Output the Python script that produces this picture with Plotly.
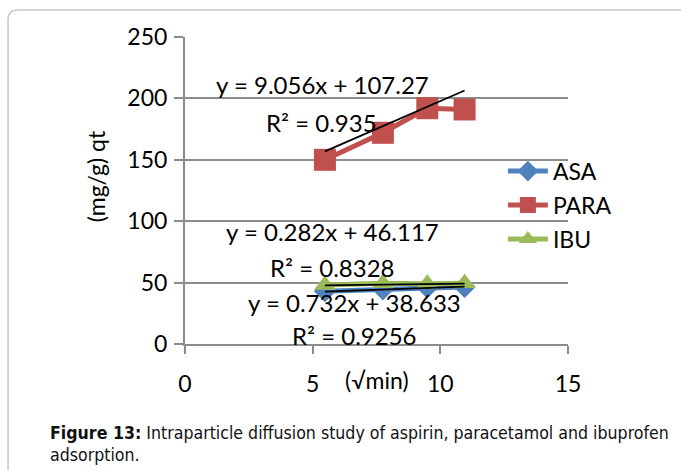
import numpy as np
import plotly.graph_objects as go

# sqrt(t) values and uptake qt (mg/g)
sqrt_t = [5.48, 7.75, 9.49, 10.95]
asa_qt = [43.0, 44.5, 46.0, 46.5]
para_qt = [150.0, 172.0, 192.0, 191.0]
ibu_qt = [48.0, 49.5, 49.0, 49.5]

series_names = ["ASA", "PARA", "IBU"]
series_colors = ["#4F81BD", "#C0504D", "#9BBB59"]
series_symbols = ["diamond", "square", "triangle-up"]
series_sizes = [17, 22, 19]

# linear trend lines: slope, intercept, R²
para_fit = (9.056, 107.27, 0.935)
ibu_fit = (0.282, 46.117, 0.8328)
asa_fit = (0.732, 38.633, 0.9256)

x_ticks = [0, 5, 10, 15]
y_ticks = [0, 50, 100, 150, 200, 250]

FONT = "Lato"
CAPTION_FONT = "DejaVu Sans Condensed, Liberation Sans, sans-serif"
fig = go.Figure()

for name, ys, col, sym, sz in zip(series_names, [asa_qt, para_qt, ibu_qt],
                                  series_colors, series_symbols, series_sizes):
    fig.add_trace(go.Scatter(
        x=sqrt_t, y=ys, name=name, legendgroup=name, mode="lines+markers",
        line=dict(color=col, width=5),
        marker=dict(symbol=sym, size=sz, color=col),
    ))

xs = np.array([min(sqrt_t), max(sqrt_t)])
for slope, icpt, _ in [para_fit, ibu_fit, asa_fit]:
    fig.add_trace(go.Scatter(
        x=xs, y=slope * xs + icpt, mode="lines", showlegend=False,
        line=dict(color="black", width=1.8), hoverinfo="skip",
    ))

def eq_text(fit):
    return f"y = {fit[0]}x + {fit[1]}", f"R² = {fit[2]}"

# equation labels, positioned in data units
labels = [
    (para_fit, 5.4, 211, 5.35, 180),
    (ibu_fit, 5.76, 92, 5.76, 62),
    (asa_fit, 6.62, 34, 6.65, 7.3),
]
for fit, x1, y1, x2, y2 in labels:
    t1, t2 = eq_text(fit)
    fig.add_annotation(x=x1, y=y1, text=t1, showarrow=False,
                       font=dict(size=24, color="black", family=FONT))
    fig.add_annotation(x=x2, y=y2, text=t2, showarrow=False,
                       font=dict(size=24, color="black", family=FONT))

# axis titles
fig.add_annotation(xref="paper", yref="paper", x=0.5, y=-0.117,
                   xanchor="center", yanchor="middle",
                   text="(√min)", showarrow=False,
                   font=dict(size=23, color="black", family=FONT))
fig.add_annotation(xref="paper", yref="paper", x=-0.232, y=0.547, textangle=-90,
                   xanchor="center", yanchor="middle",
                   text="(mg/g) qt", showarrow=False,
                   font=dict(size=23, color="black", family=FONT))

# outer rounded frame
fig.add_shape(type="path", xref="paper", yref="paper",
              path="M -0.462,-0.6 L -0.462,1.056 Q -0.462,1.088 -0.436,1.088 L 1.4,1.088",
              line=dict(color="#c8c8c8", width=1.5))

# caption
fig.add_annotation(xref="paper", yref="paper", x=-0.359, y=-0.29, xanchor="left", yanchor="middle",
                   text="<b>Figure 13:</b> Intraparticle diffusion study of aspirin, paracetamol and ibuprofen",
                   showarrow=False, align="left",
                   font=dict(size=17.6, color="#111", family=CAPTION_FONT))
fig.add_annotation(xref="paper", yref="paper", x=-0.359, y=-0.362, xanchor="left", yanchor="middle",
                   text="adsorption.", showarrow=False, align="left",
                   font=dict(size=17.6, color="#111", family=CAPTION_FONT))

fig.update_layout(
    width=681, height=470,
    margin=dict(l=185, r=113, t=37, b=126),
    paper_bgcolor="white", plot_bgcolor="white",
    font=dict(family=FONT, size=22, color="black"),
    showlegend=True,
    legend=dict(x=0.83, y=0.633, xanchor="left", yanchor="top",
                bgcolor="rgba(0,0,0,0)", font=dict(size=23, family=FONT),
                itemwidth=40, tracegroupgap=1),
    xaxis=dict(range=[0, 15], tickvals=x_ticks, showgrid=False,
               showline=True, linecolor="#8c8c8c", linewidth=2,
               ticks="outside", ticklen=8, tickcolor="#8c8c8c", tickwidth=2,
               zeroline=False, tickfont=dict(size=23), ticklabelstandoff=10),
    yaxis=dict(range=[0, 250], tickvals=y_ticks, showgrid=True, gridcolor="#8c8c8c",
               gridwidth=2, showline=True, linecolor="#8c8c8c", linewidth=2,
               ticks="outside", ticklen=9, tickcolor="#8c8c8c", tickwidth=2,
               zeroline=False, tickfont=dict(size=23), ticklabelstandoff=2),
)

fig.write_html("out.html")
